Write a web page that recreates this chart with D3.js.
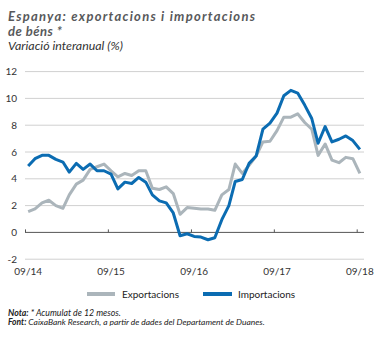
<!DOCTYPE html>
<html><head><meta charset="utf-8">
<script src="https://cdn.jsdelivr.net/npm/d3@7"></script>
<style>body{margin:0;background:#fff}svg{display:block}</style>
</head><body>
<script>
const months = d3.range(49).map(i => new Date(2014, 8 + i, 15));
const exportacions = [1.55,1.75,2.2,2.4,2.0,1.8,2.8,3.6,3.9,4.7,4.9,5.1,4.6,4.15,4.4,4.25,4.6,4.6,3.3,3.2,3.4,2.9,1.35,1.85,1.8,1.75,1.75,1.65,2.8,3.2,5.1,4.4,5.0,5.7,6.75,6.8,7.6,8.6,8.6,8.85,8.2,7.7,5.75,6.6,5.4,5.2,5.6,5.5,4.4];
const importacions = [4.95,5.5,5.75,5.75,5.45,5.25,4.5,5.15,4.7,5.1,4.6,4.6,4.35,3.25,3.75,3.65,4.1,3.75,2.8,2.35,2.2,1.45,-0.25,-0.1,-0.3,-0.35,-0.55,-0.4,0.95,2.0,3.8,3.95,5.15,5.7,7.7,8.15,8.9,10.2,10.6,10.4,9.5,8.5,6.65,7.9,6.75,6.95,7.2,6.85,6.2];
const yTicks = [-2,0,2,4,6,8,10,12];
const xTickDates = [new Date(2014,8,1),new Date(2015,8,1),new Date(2016,8,1),new Date(2017,8,1),new Date(2018,8,1)];
const xTickLabels = ["09/14","09/15","09/16","09/17","09/18"];
const seriesNames = ["Exportacions","Importacions"];
const colors = ["#abb5bb","#0b6cb2"];

const W = 376, H = 338;
const svg = d3.select("body").append("svg").attr("width",W).attr("height",H);
const FF = "Lato, 'Open Sans', sans-serif";

function fit(t, width){
  let fs = parseFloat(t.attr("font-size"));
  const w = t.node().getComputedTextLength();
  t.attr("font-size", (fs*width/w).toFixed(2));
}

// Title
svg.append("text").attr("x",8).attr("y",20.5).attr("font-family",FF).attr("font-weight","bold")
  .attr("font-style","italic").attr("font-size",13).attr("fill","#58595b")
  .attr("textLength",247).attr("lengthAdjust","spacing").text("Espanya: exportacions i importacions");
svg.append("text").attr("x",8).attr("y",36).attr("font-family",FF).attr("font-weight","bold")
  .attr("font-style","italic").attr("font-size",13).attr("fill","#58595b").attr("letter-spacing",0.5).text("de béns *");
const st = svg.append("text").attr("x",8).attr("y",50).attr("font-family",FF)
  .attr("font-style","italic").attr("font-size",11).attr("fill","#333").text("Variació interanual (%)");
fit(st,115);

const x = d3.scaleTime().domain([xTickDates[0], xTickDates[4]]).range([25, 356.7]);
const y = d3.scaleLinear().domain([-2,12]).range([259.2, 71.6]);
const gx0 = 25, gx1 = 364;

// gridlines
svg.append("g").selectAll("line").data(yTicks.filter(d=>d!==0)).join("line")
  .attr("x1",gx0).attr("x2",gx1).attr("y1",d=>y(d)).attr("y2",d=>y(d))
  .attr("stroke","#d0d0d0").attr("stroke-width",1);

// y labels
svg.append("g").selectAll("text").data(yTicks).join("text")
  .attr("x",17).attr("y",d=>y(d)).attr("dy","0.35em").attr("text-anchor","end")
  .attr("font-family",FF).attr("font-size",10).attr("fill","#333").text(d=>d);

// zero axis with ticks
const ax = d3.axisTop(x).tickValues(xTickDates).tickSize(3).tickFormat("");
const axg = svg.append("g").attr("transform",`translate(0,${y(0)})`).call(ax);
axg.select(".domain").remove();
axg.selectAll(".tick line").attr("stroke","#555");
svg.append("line").attr("x1",gx0).attr("x2",gx1).attr("y1",y(0)).attr("y2",y(0)).attr("stroke","#555").attr("stroke-width",1);

// x labels
svg.append("g").selectAll("text").data(xTickDates).join("text")
  .attr("x",(d)=>x(new Date(d.getFullYear(), d.getMonth(), 15))).attr("y",275).attr("text-anchor","middle")
  .attr("font-family",FF).attr("font-size",10).attr("fill","#333").text((d,i)=>xTickLabels[i]);

// lines
const line = d3.line().x((d,i)=>x(months[i])).y(d=>y(d)).curve(d3.curveLinear);
[exportacions, importacions].forEach((s,k)=>{
  svg.append("path").datum(s).attr("d",line).attr("fill","none").attr("stroke",colors[k])
    .attr("stroke-width",3).attr("stroke-linejoin","round").attr("stroke-linecap","butt");
});

// legend
const legX = [[87,115,122],[203,232,238]];
seriesNames.forEach((n,k)=>{
  svg.append("line").attr("x1",legX[k][0]).attr("x2",legX[k][1]).attr("y1",294).attr("y2",294)
    .attr("stroke",colors[k]).attr("stroke-width",4);
  svg.append("text").attr("x",legX[k][2]).attr("y",294).attr("dy","0.35em")
    .attr("font-family",FF).attr("font-size",10).attr("fill","#222").text(n);
});

// notes
const n1 = svg.append("text").attr("x",8).attr("y",316).attr("font-family",FF).attr("font-style","italic")
  .attr("font-size",9).attr("fill","#222");
n1.append("tspan").attr("font-weight","bold").text("Nota:");
n1.append("tspan").text(" * Acumulat de 12 mesos.");
fit(n1,113);
const n2 = svg.append("text").attr("x",8).attr("y",325).attr("font-family",FF).attr("font-style","italic")
  .attr("font-size",9).attr("fill","#222");
n2.append("tspan").attr("font-weight","bold").text("Font:");
n2.append("tspan").text(" CaixaBank Research, a partir de dades del Departament de Duanes.");
fit(n2,257);
</script>
</body></html>
